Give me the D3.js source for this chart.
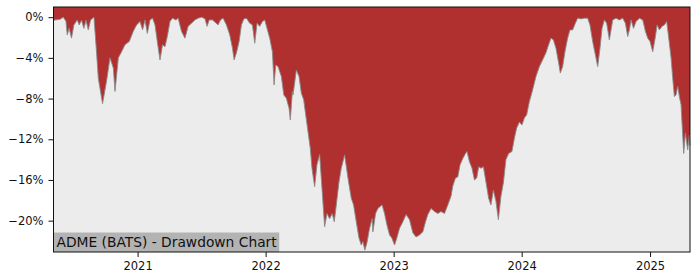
<!DOCTYPE html>
<html>
<head>
<meta charset="utf-8">
<script src="https://cdn.jsdelivr.net/npm/d3@7"></script>
<style>
  body { margin: 0; background: #fff; }
  svg text { font-family: 'DejaVu Sans', sans-serif; }
</style>
</head>
<body>
<svg id="chart" width="700" height="280"></svg>
<script>
// dates as decimal years, drawdown in percent
const dates = [
  2020.345, 2020.397, 2020.421, 2020.442, 2020.452, 2020.467, 2020.485, 2020.504, 2020.530, 2020.545,
  2020.563, 2020.582, 2020.598, 2020.616, 2020.634, 2020.660, 2020.676, 2020.694, 2020.727, 2020.758,
  2020.785, 2020.811, 2020.824, 2020.850, 2020.875, 2020.902, 2020.935, 2020.966, 2020.992, 2021.019,
  2021.039, 2021.058, 2021.076, 2021.097, 2021.117, 2021.136, 2021.154, 2021.175, 2021.195, 2021.214,
  2021.232, 2021.253, 2021.273, 2021.299, 2021.317, 2021.343, 2021.370, 2021.395, 2021.421, 2021.448,
  2021.473, 2021.499, 2021.526, 2021.543, 2021.559, 2021.585, 2021.629, 2021.647, 2021.668, 2021.694,
  2021.720, 2021.741, 2021.754, 2021.772, 2021.793, 2021.811, 2021.830, 2021.850, 2021.876, 2021.897,
  2021.915, 2021.933, 2021.954, 2021.975, 2021.993, 2022.011, 2022.032, 2022.053, 2022.066, 2022.079,
  2022.097, 2022.123, 2022.142, 2022.162, 2022.183, 2022.193, 2022.209, 2022.214, 2022.240, 2022.261,
  2022.279, 2022.297, 2022.313, 2022.331, 2022.349, 2022.362, 2022.383, 2022.401, 2022.422, 2022.442,
  2022.461, 2022.479, 2022.500, 2022.520, 2022.536, 2022.552, 2022.573, 2022.591, 2022.617, 2022.643,
  2022.669, 2022.687, 2022.708, 2022.729, 2022.747, 2022.760, 2022.775, 2022.791, 2022.812, 2022.832,
  2022.838, 2022.859, 2022.877, 2022.895, 2022.910, 2022.929, 2022.947, 2022.968, 2022.986, 2023.007,
  2023.025, 2023.046, 2023.072, 2023.097, 2023.124, 2023.150, 2023.175, 2023.202, 2023.228, 2023.249,
  2023.267, 2023.292, 2023.319, 2023.345, 2023.370, 2023.397, 2023.423, 2023.448, 2023.462, 2023.483,
  2023.501, 2023.519, 2023.540, 2023.561, 2023.573, 2023.592, 2023.612, 2023.631, 2023.649, 2023.664,
  2023.682, 2023.701, 2023.721, 2023.742, 2023.760, 2023.779, 2023.799, 2023.818, 2023.838, 2023.857,
  2023.877, 2023.898, 2023.924, 2023.943, 2023.961, 2023.982, 2024.002, 2024.021, 2024.039, 2024.060,
  2024.085, 2024.111, 2024.138, 2024.163, 2024.189, 2024.210, 2024.228, 2024.247, 2024.267, 2024.288,
  2024.301, 2024.319, 2024.337, 2024.358, 2024.376, 2024.397, 2024.418, 2024.436, 2024.462, 2024.488,
  2024.514, 2024.532, 2024.553, 2024.574, 2024.592, 2024.610, 2024.626, 2024.644, 2024.662, 2024.683,
  2024.701, 2024.709, 2024.735, 2024.761, 2024.787, 2024.808, 2024.826, 2024.839, 2024.852, 2024.871,
  2024.891, 2024.917, 2024.943, 2024.964, 2024.982, 2025.000, 2025.021, 2025.042, 2025.055, 2025.073,
  2025.094, 2025.112, 2025.130, 2025.146, 2025.164, 2025.177, 2025.190, 2025.203, 2025.216, 2025.229,
  2025.242, 2025.255, 2025.263, 2025.276, 2025.294, 2025.307, 2025.312
]
const drawdown = [
  -0.3, -0.2, 0, -0.4, -1.74, -1.1, -2.06, -0.76, -0.27, -0.76,
  -0.3, -1.1, -0.3, -1.25, -0.27, 0, -2.7, -6.0, -8.5, -6.3,
  -4.0, -5.0, -7.3, -4.0, -3.4, -2.7, -2.4, -1.4, -0.76, -0.43,
  -1.25, -0.27, -1.6, -0.27, -0.1, -0.76, -2.4, -4.2, -2.7, -2.9,
  -1.9, -0.43, -0.1, -0.27, -0.1, -1.4, -2.06, -0.9, -0.6, -0.27,
  -0.1, 0, -0.15, -0.9, -0.27, -0.27, -0.76, -0.27, -0.1, -0.76,
  -1.74, -3.05, -4.2, -3.5, -2.4, -0.76, -0.17, -0.1, -0.6, -0.76,
  -2.56, -0.6, -0.9, -0.43, -0.27, -1.1, -2.06, -3.4, -6.66, -4.7,
  -4.86, -5.84, -7.64, -7.97, -8.95, -10.1, -7.3, -7.64, -5.2, -5.84,
  -7.47, -8.1, -9.6, -11.25, -12.9, -14.85, -16.66, -14.5, -13.5, -17.15,
  -20.6, -19.3, -19.8, -19.3, -20.1, -18.46, -16.2, -14.85, -13.54, -15.8,
  -17.8, -18.46, -20.1, -21.7, -22.4, -22.06, -22.9, -22.2, -20.75, -19.8,
  -21.1, -19.3, -18.8, -18.6, -18.46, -19.3, -20.4, -21.4, -21.7, -22.4,
  -21.7, -20.75, -20.1, -19.4, -19.9, -21.2, -21.6, -21.4, -21.1, -20.1,
  -19.4, -18.8, -19.1, -19.3, -19.1, -19.3, -18.46, -17.6, -16.6, -15.8,
  -15.7, -14.5, -13.9, -13.4, -13.2, -14.2, -14.85, -16.0, -15.8, -14.7,
  -14.85, -14.7, -16.2, -17.8, -18.46, -17.0, -18.1, -19.9, -17.6, -16.3,
  -14.0, -13.4, -13.2, -11.9, -10.9, -10.3, -10.6, -9.9, -9.6, -8.3,
  -7.15, -5.84, -4.86, -4.2, -3.5, -2.7, -2.06, -2.23, -3.05, -4.5,
  -5.5, -4.86, -3.4, -2.06, -1.25, -1.25, -0.6, -0.1, -0.17, -0.1,
  -0.1, -0.76, -2.4, -3.7, -4.86, -3.05, -1.1, -0.27, -0.6, -2.23,
  -0.9, -0.27, -0.1, -0.27, -0.1, -0.6, -1.9, -1.25, -0.27, -1.1,
  -0.43, -0.1, -0.27, -1.4, -2.06, -2.4, -3.4, -1.9, -0.76, -1.25,
  -0.9, -0.76, -0.43, -2.06, -4.0, -6.0, -7.8, -7.64, -6.8, -7.8,
  -8.6, -11.6, -13.4, -11.4, -13.05, -11.6, -12.6
]
const yTicks = [0, -4, -8, -12, -16, -20]
const xTickYears = [2021, 2022, 2023, 2024, 2025]
const title = 'ADME (BATS) - Drawdown Chart'

const toDate = t => {
  const y = Math.floor(t)
  const a = Date.UTC(y, 0, 1)
  const b = Date.UTC(y + 1, 0, 1)
  return new Date(a + (t - y) * (b - a))
}

const data = dates.map((t, i) => ({ date: toDate(t), value: drawdown[i] }))

const svg = d3.select('#chart')
const width = +svg.attr('width')
const height = +svg.attr('height')
const margin = { top: 7, right: 10, bottom: 28, left: 53.5 }
const innerWidth = width - margin.left - margin.right
const innerHeight = height - margin.top - margin.bottom

const xScale = d3.scaleUtc().
  domain([toDate(2020.345), toDate(2025.312)]).
  range([0, innerWidth])

const yScale = d3.scaleLinear().
  domain([-23.08, 1.0]).
  range([innerHeight, 0])

const g = svg.append('g').
  attr('transform', `translate(${margin.left},${margin.top})`)

// background below the curve
g.append('rect').
  attr('width', innerWidth).
  attr('height', innerHeight).
  attr('fill', '#ececec')

const area = d3.area().
  x(d => xScale(d.date)).
  y0(0).
  y1(d => yScale(d.value))

g.append('path').
  datum(data).
  attr('d', area).
  attr('fill', '#b03030')

const line = d3.line().
  x(d => xScale(d.date)).
  y(d => yScale(d.value))

g.append('path').
  datum(data).
  attr('d', line).
  attr('fill', 'none').
  attr('stroke', '#8a8a8a').
  attr('stroke-width', 0.9)

// title box
const titleG = g.append('g')
const titleText = titleG.append('text').
  attr('x', 3).
  attr('y', innerHeight - 5).
  attr('font-size', 13.8).
  attr('fill', '#111').
  text(title)
const bb = titleText.node().getBBox()
titleG.insert('rect', 'text').
  attr('x', 0).
  attr('y', innerHeight - 19.5).
  attr('width', bb.width + 5).
  attr('height', 19.5).
  attr('fill', '#b3b3b3')

// axes
const xAxis = d3.axisBottom(xScale).
  tickValues(xTickYears.map(y => toDate(y))).
  tickFormat(d3.utcFormat('%Y')).
  tickSize(5).
  tickSizeOuter(0).
  tickPadding(5)

const yAxis = d3.axisLeft(yScale).
  tickValues(yTicks).
  tickFormat(d => (d < 0 ? '\u2212' + Math.abs(d) : d) + '%').
  tickSize(5).
  tickSizeOuter(0).
  tickPadding(5)

const xAxisG = g.append('g').
  attr('transform', `translate(0,${innerHeight})`).
  call(xAxis)
const yAxisG = g.append('g').call(yAxis)

;[xAxisG, yAxisG].forEach(ax => {
  ax.selectAll('.domain').remove()
  ax.selectAll('text').attr('font-size', 11.5).attr('fill', '#111')
  ax.selectAll('line').attr('stroke', '#111')
})

// frame
g.append('rect').
  attr('width', innerWidth).
  attr('height', innerHeight).
  attr('fill', 'none').
  attr('stroke', '#111').
  attr('stroke-width', 1)
</script>
</body>
</html>
